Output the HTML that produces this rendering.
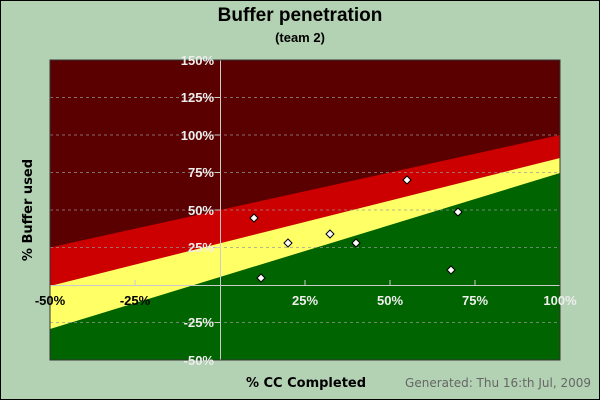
<!DOCTYPE html>
<html><head><style>html,body{margin:0;overflow:hidden;background:#b3d1b3}svg{display:block}</style></head><body>
<svg width="600" height="400" xmlns="http://www.w3.org/2000/svg" font-family="Liberation Sans, sans-serif">
<rect x="0.5" y="0.5" width="599" height="399" fill="#b3d1b3" stroke="#000"/>
<text x="300" y="21" text-anchor="middle" font-size="19" font-weight="bold">Buffer penetration</text>
<text x="300" y="42" text-anchor="middle" font-size="13" font-weight="bold">(team 2)</text>
<rect x="50" y="60" width="510" height="300" fill="#5a0000"/>
<polygon points="50,247.5 560,135 560,360 50,360" fill="#cc0000"/>
<polygon points="50,286 560,158 560,360 50,360" fill="#ffff66"/>
<polygon points="50,329 560,173 560,360 50,360" fill="#006400"/>
<g stroke="#999" stroke-opacity="0.7" stroke-dasharray="3,3" stroke-width="1">
<line x1="50" x2="560" y1="97.5" y2="97.5"/><line x1="50" x2="560" y1="135" y2="135"/>
<line x1="50" x2="560" y1="172.5" y2="172.5"/><line x1="50" x2="560" y1="210" y2="210"/>
<line x1="50" x2="560" y1="247.5" y2="247.5"/><line x1="50" x2="560" y1="322.5" y2="322.5"/>
</g>
<g stroke="#ccc" stroke-width="1">
<line x1="220.5" x2="220.5" y1="60" y2="360"/><line x1="50" x2="560" y1="285.5" y2="285.5"/>
<line x1="135" x2="135" y1="280" y2="285"/><line x1="305" x2="305" y1="280" y2="285"/>
<line x1="390" x2="390" y1="280" y2="285"/><line x1="475" x2="475" y1="280" y2="285"/>
<line x1="215" x2="220" y1="97.5" y2="97.5"/><line x1="215" x2="220" y1="135" y2="135"/>
<line x1="215" x2="220" y1="172.5" y2="172.5"/><line x1="215" x2="220" y1="210" y2="210"/>
<line x1="215" x2="220" y1="247.5" y2="247.5"/><line x1="215" x2="220" y1="322.5" y2="322.5"/>
</g>
<rect x="50" y="60" width="510" height="300" fill="none" stroke="#333"/>
<g font-size="13" font-weight="bold" fill="#eee" text-anchor="end">
<text x="214" y="65">150%</text><text x="214" y="102">125%</text><text x="214" y="140">100%</text>
<text x="214" y="177">75%</text><text x="214" y="215">50%</text><text x="214" y="252">25%</text>
<text x="214" y="327">-25%</text><text x="214" y="365">-50%</text>
</g>
<g font-size="13" font-weight="bold" text-anchor="middle">
<text x="50" y="305" fill="#000">-50%</text><text x="135" y="305" fill="#000">-25%</text>
<text x="305" y="305" fill="#eee">25%</text><text x="390" y="305" fill="#eee">50%</text>
<text x="475" y="305" fill="#eee">75%</text><text x="560" y="305" fill="#eee">100%</text>
</g>
<text x="32" y="210" transform="rotate(-90 32 210)" text-anchor="middle" font-size="13" font-weight="bold" font-family="DejaVu Sans, sans-serif">% Buffer used</text>
<text x="306" y="387" text-anchor="middle" font-size="13" font-weight="bold" font-family="DejaVu Sans, sans-serif">% CC Completed</text>
<text x="591" y="387" text-anchor="end" font-size="12" fill="#666" font-family="DejaVu Sans, sans-serif">Generated: Thu 16:th Jul, 2009</text>
<g fill="#fff" stroke="#000" stroke-width="1">
<polygon points="254,214 258,218 254,222 250,218"/>
<polygon points="261,274 265,278 261,282 257,278"/>
<polygon points="288,239 292,243 288,247 284,243"/>
<polygon points="330,230 334,234 330,238 326,234"/>
<polygon points="356,239 360,243 356,247 352,243"/>
<polygon points="407,176 411,180 407,184 403,180"/>
<polygon points="458,208 462,212 458,216 454,212"/>
<polygon points="451,266 455,270 451,274 447,270"/>
</g>
</svg>
</body></html>
